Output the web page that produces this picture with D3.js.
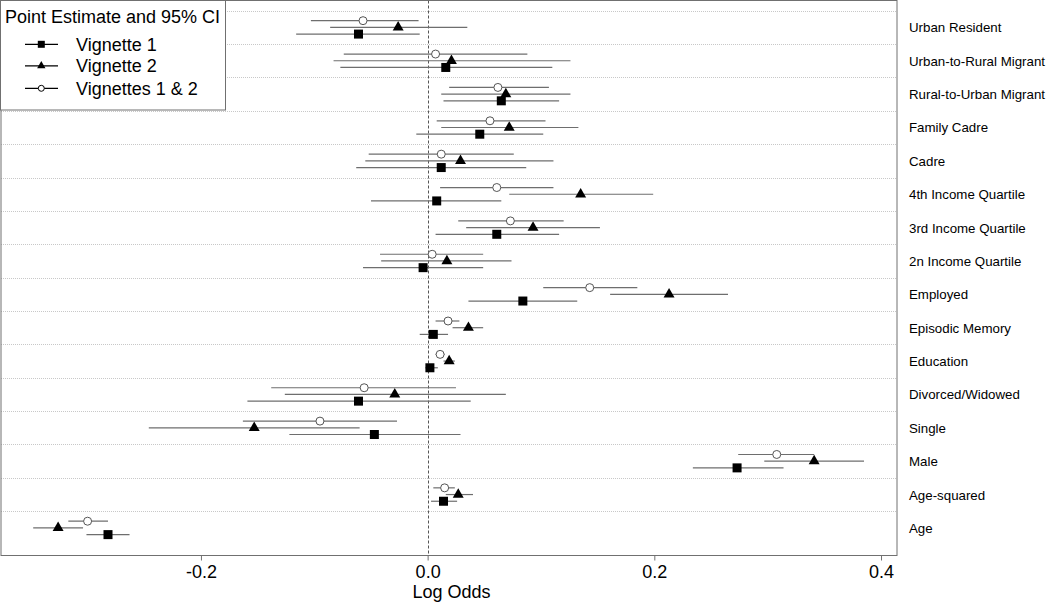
<!DOCTYPE html>
<html>
<head>
<meta charset="utf-8">
<script src="https://cdn.jsdelivr.net/npm/d3@7"></script>
<style>
  html, body { margin: 0; padding: 0; background: #fff; }
  svg { display: block; font-family: "Liberation Sans", Arial, sans-serif; }
</style>
</head>
<body>
<svg id="chart" width="1050" height="602"></svg>
<script>
// ---- Data ----
const categories = [
  "Urban Resident", "Urban-to-Rural Migrant", "Rural-to-Urban Migrant", "Family Cadre",
  "Cadre", "4th Income Quartile", "3rd Income Quartile", "2n Income Quartile",
  "Employed", "Episodic Memory", "Education", "Divorced/Widowed",
  "Single", "Male", "Age-squared", "Age"
];
const seriesNames = ["Vignette 1", "Vignette 2", "Vignettes 1 & 2"];

// Vignette 1 (squares)
const v1Est  = [-0.061, 0.016, 0.065, 0.046, 0.012, 0.008, 0.061, -0.004, 0.084, 0.005, 0.002, -0.061, -0.047, 0.273, 0.014, -0.282];
const v1Low  = [-0.116, -0.077, 0.014, -0.010, -0.063, -0.050, 0.007, -0.057, 0.036, -0.007, -0.002, -0.159, -0.122, 0.234, 0.003, -0.301];
const v1High = [-0.007, 0.110, 0.116, 0.102, 0.087, 0.065, 0.116, 0.049, 0.132, 0.018, 0.009, 0.038, 0.029, 0.314, 0.026, -0.263];

// Vignette 2 (triangles)
const v2Est  = [-0.026, 0.021, 0.069, 0.072, 0.029, 0.135, 0.093, 0.017, 0.213, 0.036, 0.019, -0.029, -0.153, 0.341, 0.027, -0.326];
const v2Low  = [-0.086, -0.083, 0.012, 0.012, -0.055, 0.072, 0.034, -0.041, 0.161, 0.022, 0.014, -0.126, -0.246, 0.297, 0.016, -0.348];
const v2High = [0.035, 0.126, 0.126, 0.133, 0.111, 0.199, 0.152, 0.074, 0.265, 0.049, 0.024, 0.069, -0.060, 0.385, 0.040, -0.304];

// Vignettes 1 & 2 (open circles)
const v12Est  = [-0.057, 0.007, 0.062, 0.055, 0.012, 0.061, 0.073, 0.004, 0.143, 0.018, 0.011, -0.056, -0.095, 0.308, 0.015, -0.300];
const v12Low  = [-0.103, -0.074, 0.019, 0.008, -0.052, 0.011, 0.027, -0.042, 0.102, 0.007, 0.007, -0.138, -0.163, 0.274, 0.005, -0.317];
const v12High = [-0.008, 0.088, 0.107, 0.104, 0.076, 0.111, 0.120, 0.049, 0.185, 0.028, 0.015, 0.025, -0.027, 0.341, 0.024, -0.282];

const xTicks = [-0.2, 0.0, 0.2, 0.4];
const xTitle = "Log Odds";
const legendTitle = "Point Estimate and 95% CI";

// ---- Layout ----
const svg = d3.select("#chart");
const plot = { left: 1, right: 897, top: 0.5, bottom: 555.5 };

const x = d3.scaleLinear().domain([-0.3764, 0.4141]).range([plot.left, plot.right]);
const y = d3.scaleBand().domain(categories).range([10.7, 544.6]).padding(0);
const rowC = c => y(c) + y.bandwidth() / 2;

// Grid lines (dotted) at band starts
svg.append("g").selectAll("line").data(categories).join("line")
  .attr("x1", plot.left).attr("x2", plot.right)
  .attr("y1", d => Math.round(y(d)) + 0.5).attr("y2", d => Math.round(y(d)) + 0.5)
  .attr("stroke", "#c8c8c8").attr("stroke-width", 1).attr("stroke-dasharray", "1,1");

// zero line
svg.append("line")
  .attr("x1", Math.round(x(0)) + 0.5).attr("x2", Math.round(x(0)) + 0.5)
  .attr("y1", plot.top).attr("y2", plot.bottom)
  .attr("stroke", "#555").attr("stroke-width", 1).attr("stroke-dasharray", "3,2");

// Series
const series = [
  { name: seriesNames[0], est: v1Est, lo: v1Low, hi: v1High, off: 6.7, shape: "square" },
  { name: seriesNames[1], est: v2Est, lo: v2Low, hi: v2High, off: 0, shape: "triangle" },
  { name: seriesNames[2], est: v12Est, lo: v12Low, hi: v12High, off: -6.7, shape: "circle" }
];

const gMarks = svg.append("g");
series.forEach(s => {
  const rows = categories.map((c, i) => ({ c, est: s.est[i], lo: s.lo[i], hi: s.hi[i] }));
  const g = gMarks.append("g");
  g.selectAll("line").data(rows).join("line")
    .attr("x1", d => x(d.lo)).attr("x2", d => x(d.hi))
    .attr("y1", d => rowC(d.c) + s.off).attr("y2", d => rowC(d.c) + s.off)
    .attr("stroke", "#6e6e6e").attr("stroke-width", 1.2);
  if (s.shape === "square") {
    g.selectAll("rect").data(rows).join("rect")
      .attr("x", d => x(d.est) - 4.5).attr("y", d => rowC(d.c) + s.off - 4.5)
      .attr("width", 9).attr("height", 9).attr("fill", "#000");
  } else if (s.shape === "triangle") {
    g.selectAll("path").data(rows).join("path")
      .attr("d", d3.symbol().type(d3.symbolTriangle).size(52))
      .attr("transform", d => `translate(${x(d.est)},${rowC(d.c) + s.off})`)
      .attr("fill", "#000");
  } else {
    g.selectAll("circle").data(rows).join("circle")
      .attr("cx", d => x(d.est)).attr("cy", d => rowC(d.c) + s.off).attr("r", 4)
      .attr("fill", "#fff").attr("stroke", "#555").attr("stroke-width", 1);
  }
});

// Frame
svg.append("rect")
  .attr("x", plot.left).attr("y", plot.top)
  .attr("width", plot.right - plot.left).attr("height", plot.bottom - plot.top)
  .attr("fill", "none").attr("stroke", "#707070").attr("stroke-width", 1);

// X axis
const xAxis = d3.axisBottom(x).tickValues(xTicks).tickSize(5).tickPadding(5)
  .tickFormat(d => d === 0 ? "0.0" : d3.format(".1f")(d).replace("−", "-"));
const gx = svg.append("g").attr("transform", `translate(0,${plot.bottom})`).call(xAxis);
gx.select(".domain").remove();
gx.selectAll(".tick line").attr("stroke", "#707070");
gx.selectAll(".tick text").attr("font-size", 18).attr("fill", "#000")
  .attr("font-family", "'Liberation Sans', Arial, sans-serif");

svg.append("text").attr("x", x(0.021)).attr("y", 598)
  .attr("text-anchor", "middle").attr("font-size", 18).text(xTitle);

// Category labels at right
svg.append("g").selectAll("text").data(categories).join("text")
  .attr("x", 909).attr("y", d => rowC(d) + 5)
  .attr("font-size", 13.3).attr("fill", "#000").text(d => d);

// Legend
const lg = svg.append("g");
lg.append("rect").attr("x", 0.5).attr("y", 0.5).attr("width", 225).attr("height", 109.5)
  .attr("fill", "#fff").attr("stroke", "#707070").attr("stroke-width", 1);
lg.append("text").attr("x", 5).attr("y", 22.7).attr("font-size", 18).text(legendTitle);
const legY = [44.3, 65.8, 88.3];
series.forEach((s, i) => {
  const yy = legY[i];
  lg.append("line").attr("x1", 25).attr("x2", 58).attr("y1", yy).attr("y2", yy)
    .attr("stroke", "#000").attr("stroke-width", 1.2);
  if (s.shape === "square") {
    lg.append("rect").attr("x", 41.3 - 3.5).attr("y", yy - 3.5).attr("width", 7).attr("height", 7).attr("fill", "#000");
  } else if (s.shape === "triangle") {
    lg.append("path").attr("d", d3.symbol().type(d3.symbolTriangle).size(30)())
      .attr("transform", `translate(41.3,${yy})`).attr("fill", "#000");
  } else {
    lg.append("circle").attr("cx", 41.3).attr("cy", yy).attr("r", 3)
      .attr("fill", "#fff").attr("stroke", "#000").attr("stroke-width", 1);
  }
  lg.append("text").attr("x", 76).attr("y", yy + 6.3).attr("font-size", 18).text(s.name);
});
</script>
</body>
</html>
